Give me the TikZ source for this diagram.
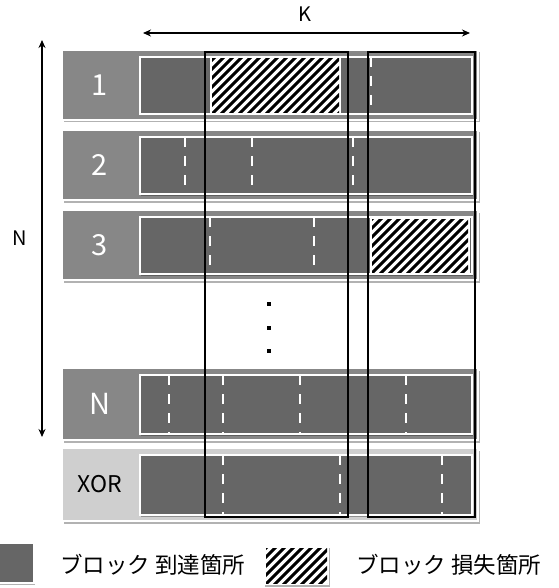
\documentclass[tikz,border=0pt]{standalone}
\usepackage{fontspec}
\setmainfont{Noto Sans CJK JP}
\usetikzlibrary{shadows,arrows.meta}
\definecolor{labgray}{HTML}{878787}
\definecolor{blockdark}{HTML}{666666}
\definecolor{xorgray}{HTML}{CFCFCF}
\tikzset{
  rowbox/.style={draw=white, line width=1.5pt, drop shadow={shadow xshift=1.5pt, shadow yshift=-2.5pt, opacity=0.3, fill=black}},
  innerbox/.style={fill=blockdark, draw=white, line width=2pt, drop shadow={shadow xshift=1pt, shadow yshift=-1.5pt, opacity=0.3, fill=black}},
  sepdash/.style={draw=white, line width=2.7pt, dash pattern=on 10pt off 9pt},
  hatchline/.style={draw=black, line width=3pt},
  framebox/.style={draw=black, line width=2.8pt},
  dimarrow/.style={draw=black, line width=1.4pt, {Stealth[length=8pt,width=7pt]}-{Stealth[length=8pt,width=7pt]}},
  rowlabel/.style={text=white, font=\fontsize{29}{29}\selectfont, inner sep=0pt},
  axislabel/.style={text=black, font=\fontsize{20}{20}\selectfont, inner sep=0pt},
  legendtext/.style={text=black, font=\fontsize{22.5}{22.5}\selectfont, inner sep=0pt, anchor=west},
  dotmark/.style={fill=black, minimum size=3.2pt, inner sep=0pt, draw=none, rectangle}
}
% hatched block: x1 y1 x2 y2
\newcommand{\myhatch}[4]{%
  \fill[white] (#1,#2) rectangle (#3,#4);
  \begin{scope}
    \clip (#1+2,#2+2) rectangle (#3-2,#4-2);
    \pgfmathsetmacro{\hh}{#4-#2}
    \foreach \xx in {-80,-71,...,200} {
      \draw[hatchline] ({#1+\xx},#4) -- ({#1+\xx+\hh},#2);
    }
  \end{scope}
}
% row: top bottom fill labelname labeltext labelstyle
\newcommand{\myrow}[6]{%
  \fill[rowbox, fill=#3] (62,#1) rectangle (478,#2);
  \fill[innerbox] (140,#1+7) rectangle (472,#2-6);
  \node[#6] (#4) at (100,{(#1+#2)/2}) {#5};
}
\begin{document}
\begin{tikzpicture}[x=1pt,y=-1pt]
\useasboundingbox (0,0) rectangle (558,588);
\fill[white] (0,0) rectangle (558,588);

% rows
\myrow{50}{120}{labgray}{r1}{1}{rowlabel}
\myhatch{210}{57}{341}{115}
\draw[sepdash] (371,57) -- (371,114);

\myrow{130}{200}{labgray}{r2}{2}{rowlabel}
\foreach \xx in {185,252,353} \draw[sepdash] (\xx,137) -- (\xx,194);

\myrow{210}{280}{labgray}{r3}{3}{rowlabel}
\foreach \xx in {210,314} \draw[sepdash] (\xx,217) -- (\xx,274);
\myhatch{370}{217}{470}{274}

\myrow{368}{440}{labgray}{rN}{N}{rowlabel}
\foreach \xx in {169,223,300,406} \draw[sepdash] (\xx,375) -- (\xx,434);

\myrow{448}{521}{xorgray}{rX}{XOR}{rowlabel, text=black, font=\fontsize{23}{23}\selectfont}
\foreach \xx in {223,340,442} \draw[sepdash] (\xx,455) -- (\xx,514);

% dots
\node[dotmark] (d1) at (269,304) {};
\node[dotmark] (d2) at (269,328) {};
\node[dotmark] (d3) at (269,351) {};

% frames
\draw[framebox] (205,52) rectangle (348,517);
\draw[framebox] (368,52) rectangle (475,517);

% dimension arrows
\coordinate (kl) at (143,33);
\coordinate (kr) at (470,33);
\draw[dimarrow] (kl) -- (kr);
\node[axislabel] (klab) at (305,14) {K};
\coordinate (nt) at (42,40);
\coordinate (nb) at (42,437);
\draw[dimarrow] (nt) -- (nb);
\node[axislabel] (nlab) at (20,238) {N};

% legend
\fill[blockdark, draw=white, line width=1.5pt, drop shadow={shadow xshift=1pt, shadow yshift=-1.5pt, opacity=0.3, fill=black}] (-2,543) rectangle (34,583);
\node[legendtext] (lg1) at (60,565) {ブロック 到達箇所};
\fill[white, drop shadow={shadow xshift=1pt, shadow yshift=-1.5pt, opacity=0.3, fill=black}] (264,546) rectangle (329,585);
\myhatch{264}{546}{329}{585}
\node[legendtext] (lg2) at (356,565) {ブロック 損失箇所};
\end{tikzpicture}
\end{document}
